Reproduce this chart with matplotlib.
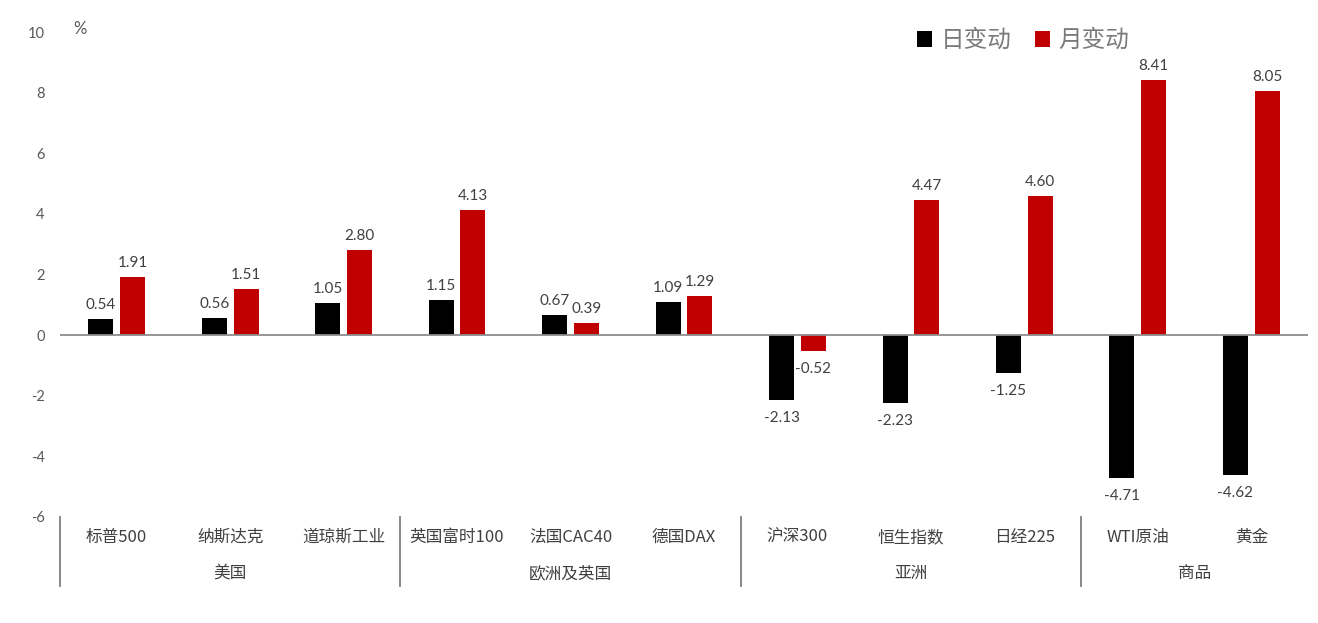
import matplotlib
matplotlib.use("Agg")
import matplotlib.pyplot as plt
import matplotlib.transforms as mtransforms
from matplotlib.patches import Patch
import numpy as np

plt.rcParams['font.family'] = ['Lato', 'Noto Sans CJK SC', 'DejaVu Sans']

# 数据
categories = ['标普500', '纳斯达克', '道琼斯工业', '英国富时100', '法国CAC40', '德国DAX',
              '沪深300', '恒生指数', '日经225', 'WTI原油', '黄金']
groups = ['美国', '欧洲及英国', '亚洲', '商品']
group_sizes = [3, 3, 3, 2]
daily_change = [0.54, 0.56, 1.05, 1.15, 0.67, 1.09, -2.13, -2.23, -1.25, -4.71, -4.62]
monthly_change = [1.91, 1.51, 2.80, 4.13, 0.39, 1.29, -0.52, 4.47, 4.60, 8.41, 8.05]
y_ticks = [-6, -4, -2, 0, 2, 4, 6, 8, 10]

black = '#000000'
red = '#C00000'
grey_txt = '#595959'
dark_txt = '#404040'
cjk = ['Noto Sans CJK SC', 'DejaVu Sans']

fig = plt.figure(figsize=(13.18, 6.23), dpi=100)
ax = fig.add_axes([60/1318, 1-517/623, 1248/1318, 485/623])

x = np.arange(len(categories)) + 0.5
w = 0.22
off = 0.14
b1 = ax.bar(x - off, daily_change, width=w, color=black, zorder=3)
b2 = ax.bar(x + off, monthly_change, width=w, color=red, zorder=3)

# 数值标签
for bars, vals in [(b1, daily_change), (b2, monthly_change)]:
    for rect, v in zip(bars, vals):
        cx = rect.get_x() + rect.get_width() / 2
        if v >= 0:
            ax.annotate(f"{v:.2f}", (cx, v), xytext=(0, 5), textcoords='offset points',
                        ha='center', va='bottom', fontsize=11, color=dark_txt)
        else:
            ax.annotate(f"{v:.2f}", (cx, v), xytext=(0, -8), textcoords='offset points',
                        ha='center', va='top', fontsize=11, color=dark_txt)

ax.set_xlim(0, len(categories))
ax.set_ylim(-6, 10)
ax.axhline(0, color='#8c8c8c', lw=1.3, zorder=4)

for s in ax.spines.values():
    s.set_visible(False)
ax.set_xticks([])
ax.set_yticks(y_ticks)
ax.set_yticklabels([str(t) for t in y_ticks])
ax.tick_params(axis='y', length=0, pad=11, labelsize=10.5, labelcolor=grey_txt)

# 分类标签
trans = mtransforms.blended_transform_factory(ax.transData, ax.transAxes)
for xi, c in zip(x, categories):
    ax.text(xi, -0.042, c, transform=trans, ha='center', va='center',
            fontsize=12, color=dark_txt, family=cjk)

start = 0
for g, n in zip(groups, group_sizes):
    ax.plot([start, start], [0, -0.142], transform=trans, color='#7f7f7f', lw=1.3, clip_on=False)
    ax.text(start + n / 2, -0.116, g, transform=trans, ha='center', va='center',
            fontsize=12, color=dark_txt, family=cjk)
    start += n

# 单位
fig.text(73/1318, 1-29/623, '%', fontsize=12, color=grey_txt, va='center', ha='left')

# 图例
handles = [Patch(facecolor=black, label='日变动'), Patch(facecolor=red, label='月变动')]
leg = fig.legend(handles=handles, loc='upper left', bbox_to_anchor=(917/1318, 1-29/623),
                 ncol=2, frameon=False, fontsize=17, handlelength=0.65, handleheight=0.65,
                 handletextpad=0.35, columnspacing=1.0, borderpad=0, borderaxespad=0)
for t in leg.get_texts():
    t.set_color('#7a7a7a')
    t.set_family(cjk)
    t.set_fontweight('light')

fig.savefig('out.png', dpi=100)
